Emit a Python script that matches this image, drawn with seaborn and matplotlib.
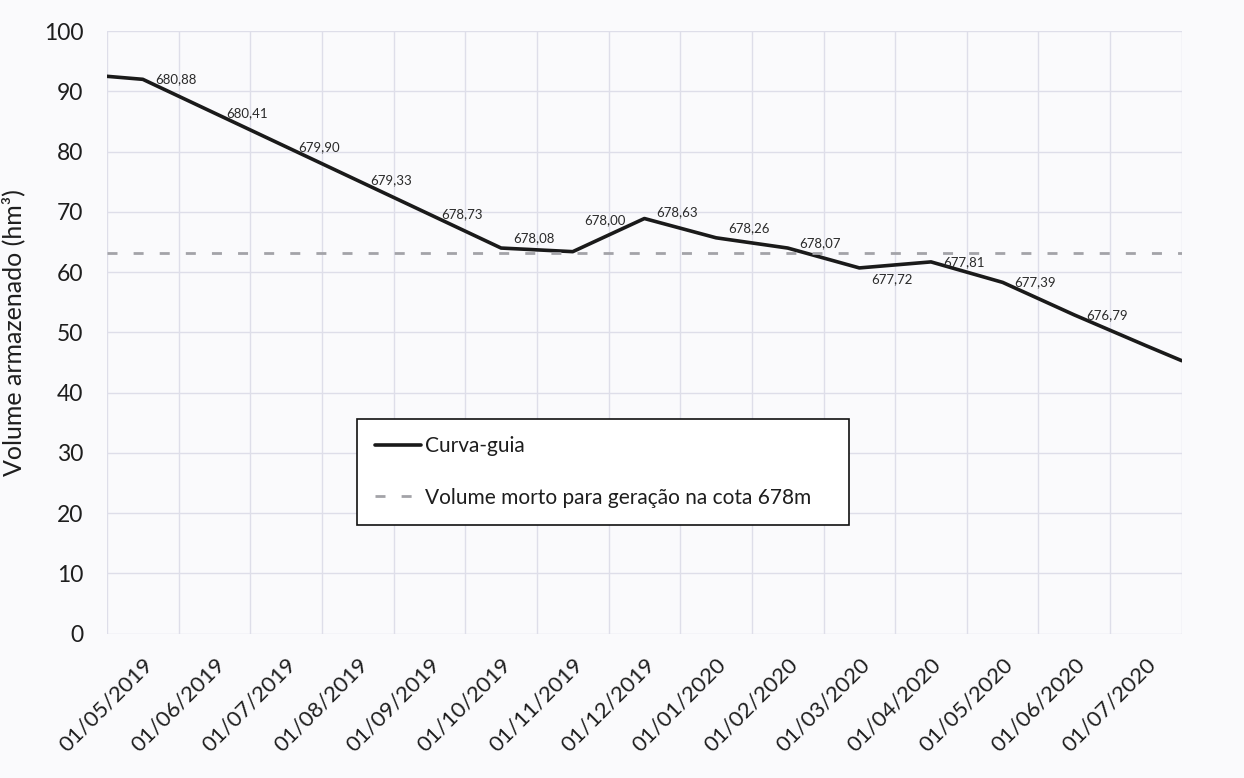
import pandas as pd
import matplotlib
matplotlib.use("Agg")
import matplotlib.pyplot as plt
import seaborn as sns

# ---- Dados -----------------------------------------------------------------
datas = [
    "01/05/2019", "01/06/2019", "01/07/2019", "01/08/2019", "01/09/2019",
    "01/10/2019", "01/11/2019", "01/12/2019", "01/01/2020", "01/02/2020",
    "01/03/2020", "01/04/2020", "01/05/2020", "01/06/2020", "01/07/2020",
]
volume_mensal = [92.0, 86.4, 80.8, 75.2, 69.6, 64.0, 63.4, 68.9, 65.7,
                 64.0, 60.7, 61.7, 58.3, 52.9, 47.8]
# a curva comeca meio mes antes e termina meio mes depois
volume_inicio = 92.5
volume_fim = 45.3
cotas = ["680,88", "680,41", "679,90", "679,33", "678,73", "678,08", "678,00",
         "678,63", "678,26", "678,07", "677,72", "677,81", "677,39", "676,79"]
volume_morto = 63.2

# ---- Montagem da tabela ----------------------------------------------------
n = len(datas)
posicoes = [-0.5] + list(range(n)) + [n - 0.5]
volumes = [volume_inicio] + volume_mensal + [volume_fim]
df = pd.DataFrame({"posicao": posicoes, "volume": volumes})

# deslocamento (px) dos rotulos de cota em relacao ao ponto
desloc_y = {5: 10, 6: 32, 7: 6, 8: 10, 9: 5, 10: -11}

sns.set_theme(style="whitegrid")
plt.rcParams["font.family"] = ["Lato", "DejaVu Sans"]

cor_fundo = "#fafafc"
cor_grade = "#dedee9"
cor_texto = "#1e1e1e"

fig = plt.figure(figsize=(12.44, 7.78), dpi=100, facecolor=cor_fundo)
ax = fig.add_axes([0.086, 0.1855, 0.864, 0.7745])
ax.set_facecolor(cor_fundo)

sns.lineplot(data=df, x="posicao", y="volume", color="#1a1a1a", linewidth=2.6,
             ax=ax, label="Curva-guia", sort=False)
ax.axhline(volume_morto, color="#a3a3a8", linewidth=2.0,
           linestyle=(0, (3.6, 5.8)),
           label="Volume morto para geração na cota 678m")

for i, cota in enumerate(cotas):
    ax.annotate(cota, xy=(i, volume_mensal[i]), xytext=(12, desloc_y.get(i, 0)),
                textcoords="offset pixels", ha="left", va="center",
                fontsize=9.5, color="#2a2a2a")

ax.set_xlim(-0.5, n - 0.5)
ax.set_ylim(0, 100)
ax.set_yticks(range(0, 101, 10))
ax.set_xticks(range(n))
ax.set_xticklabels(datas, rotation=45, ha="right", rotation_mode="anchor",
                   fontsize=16, color=cor_texto)
ax.set_xticks([k - 0.5 for k in range(n + 1)], minor=True)
ax.tick_params(axis="y", labelsize=16.5, labelcolor=cor_texto, length=0, pad=17)
ax.tick_params(axis="x", which="both", length=0, pad=15)

ax.grid(False)
ax.grid(which="minor", axis="x", color=cor_grade, linewidth=1)
ax.grid(which="major", axis="y", color=cor_grade, linewidth=1)
for lado in ["top", "right", "left", "bottom"]:
    ax.spines[lado].set_visible(False)

ax.set_xlabel("")
ax.set_ylabel("Volume armazenado (hm³)", fontsize=18, color=cor_texto)
ax.yaxis.set_label_coords(-0.076, 0.5)

leg = ax.legend(loc="upper left", bbox_to_anchor=(0.2326, 0.179, 0.4577, 0.178),
                mode="expand", fontsize=15,
                frameon=True, fancybox=False, framealpha=1, facecolor="white",
                edgecolor="#111111", handlelength=2.2, handletextpad=0.2,
                labelspacing=1.5, borderpad=0.85, borderaxespad=0)
leg.get_frame().set_linewidth(1.2)
for t in leg.get_texts():
    t.set_color(cor_texto)

fig.savefig("out.png", dpi=100, facecolor=cor_fundo)
